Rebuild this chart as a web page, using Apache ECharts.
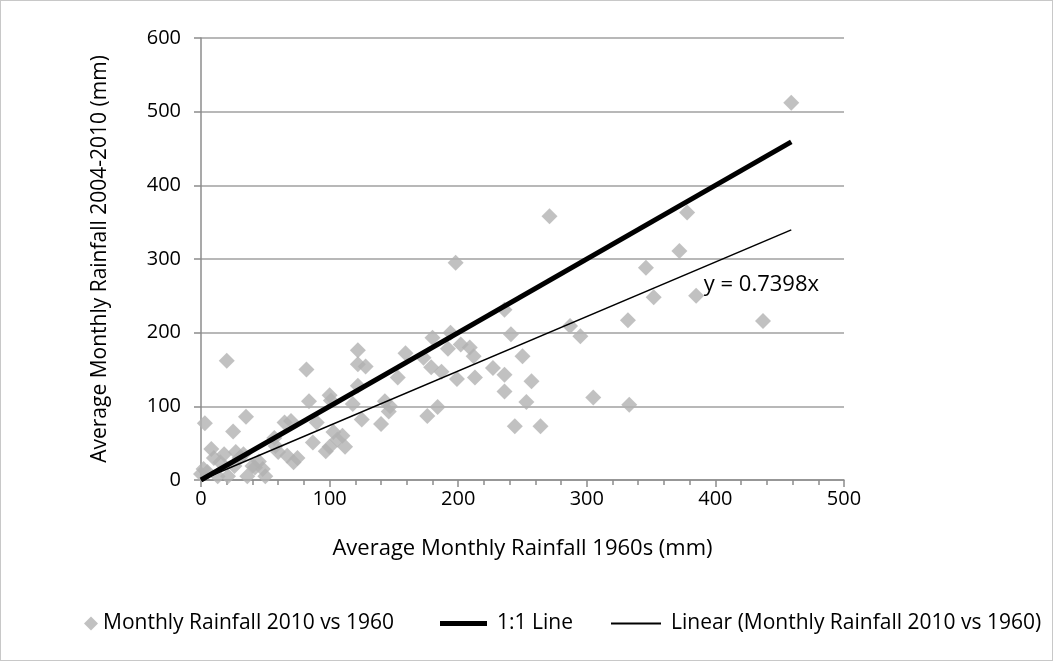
<!DOCTYPE html>
<html>
<head>
<meta charset="utf-8">
<title>Monthly Rainfall 2010 vs 1960</title>
<script src="https://cdn.jsdelivr.net/npm/echarts@6/dist/echarts.min.js"></script>
<style>
  html, body { margin: 0; padding: 0; background: #fff; }
  #chart { width: 1051px; height: 659px; border: 1px solid #c8c8c8; }
</style>
</head>
<body>
<div id="chart"></div>
<script>
// scatter points: 1960s average (x) vs 2004-2010 average (y), mm
const rain1960 = [
  0, 2, 5, 13, 21, 15, 8, 18, 27, 33, 26, 40, 36, 48, 50, 3, 25, 35, 20, 57,
  58, 60, 67, 72, 75, 65, 70, 90, 87, 97, 100, 103, 106, 112, 84, 82, 100, 101, 118, 122,
  125, 122, 122, 128, 140, 146, 143, 147, 153, 159, 173, 176, 179, 180, 184, 187, 192, 194, 198, 199,
  202, 209, 212, 213, 227, 236, 236, 236, 241, 244, 250, 253, 257, 264, 271, 287, 295, 305, 332, 333,
  346, 352, 372, 378, 385, 437, 459, 10, 30, 45, 42, 110
];
const rain2004 = [
  8, 15, 11, 5, 5, 24, 42, 35, 38, 35, 19, 19, 5, 15, 5, 77, 66, 86, 162, 57,
  46, 38, 33, 24, 30, 78, 80, 78, 51, 39, 45, 65, 55, 45, 107, 150, 115, 108, 103, 128,
  82, 176, 157, 154, 76, 93, 107, 100, 139, 172, 166, 87, 153, 193, 99, 147, 178, 200, 295, 137,
  184, 180, 168, 139, 152, 143, 120, 231, 198, 73, 168, 106, 134, 73, 358, 209, 195, 112, 217, 102,
  288, 248, 311, 363, 250, 216, 512, 30, 30, 25, 17, 60
];

// 1:1 reference line and the fitted line through the origin
const oneToOneX = [0, 459];
const oneToOneY = [0, 459];
const trendX = [0, 459];
const trendY = [0, 339.6];
const trendLabel = 'y = 0.7398x';

const xTicks = [0, 100, 200, 300, 400, 500];
const yTicks = [0, 100, 200, 300, 400, 500, 600];

const FONT = 'Open Sans';
const chart = echarts.init(document.getElementById('chart'));

const scatterData = rain1960.map((x, i) => [x, rain2004[i]]);
const pair = (xs, ys) => xs.map((x, i) => [x, ys[i]]);
const legendText = { fontFamily: FONT, fontSize: 21, color: '#000' };

chart.setOption({
  animation: false,
  textStyle: { fontFamily: FONT, color: '#000' },
  grid: { left: 200, right: 208, top: 37, bottom: 180 },
  legend: [
    {
      data: [{ name: 'Monthly Rainfall 2010 vs 1960', icon: 'diamond' }],
      left: 78, bottom: 21,
      itemWidth: 14, itemHeight: 14,
      textStyle: legendText
    },
    {
      data: [{ name: '1:1 Line', icon: 'rect' }],
      left: 434, bottom: 21,
      itemWidth: 47, itemHeight: 5,
      textStyle: Object.assign({ padding: [0, 0, 0, 5] }, legendText)
    },
    {
      data: [{ name: 'Linear (Monthly Rainfall 2010 vs 1960)', icon: 'rect' }],
      left: 605, bottom: 21,
      itemWidth: 50, itemHeight: 2,
      textStyle: Object.assign({ padding: [0, 0, 0, 5] }, legendText)
    }
  ],
  xAxis: {
    type: 'value',
    min: xTicks[0],
    max: xTicks[xTicks.length - 1],
    interval: 100,
    name: 'Average Monthly Rainfall 1960s (mm)',
    nameLocation: 'middle',
    nameGap: 58,
    nameTextStyle: { fontFamily: FONT, fontSize: 22, color: '#000' },
    axisLine: { show: true, lineStyle: { color: '#8c8c8c', width: 1.5 } },
    axisTick: { show: true, length: 7, lineStyle: { color: '#8c8c8c', width: 1.5 } },
    minorTick: { show: true, splitNumber: 5, length: 5, lineStyle: { color: '#8c8c8c', width: 1.5 } },
    axisLabel: { fontFamily: FONT, fontSize: 20, color: '#000', margin: 9 },
    splitLine: { show: false }
  },
  yAxis: {
    type: 'value',
    min: yTicks[0],
    max: yTicks[yTicks.length - 1],
    interval: 100,
    name: 'Average Monthly Rainfall 2004-2010 (mm)',
    nameLocation: 'middle',
    nameGap: 90,
    nameTextStyle: { fontFamily: FONT, fontSize: 21, color: '#000' },
    axisLine: { show: true, lineStyle: { color: '#8c8c8c', width: 1.5 } },
    axisTick: { show: true, length: 7, lineStyle: { color: '#8c8c8c', width: 1.5 } },
    axisLabel: { fontFamily: FONT, fontSize: 20, color: '#000', margin: 20 },
    splitLine: { show: true, lineStyle: { color: '#a0a0a0', width: 1.5 } }
  },
  series: [
    {
      name: 'Monthly Rainfall 2010 vs 1960',
      type: 'scatter',
      symbol: 'diamond',
      symbolSize: 16,
      itemStyle: { color: '#b2b2b2' },
      data: scatterData,
      z: 2
    },
    {
      name: '1:1 Line',
      type: 'line',
      symbol: 'none',
      lineStyle: { color: '#000', width: 5 },
      itemStyle: { color: '#000' },
      data: pair(oneToOneX, oneToOneY),
      z: 3
    },
    {
      name: 'Linear (Monthly Rainfall 2010 vs 1960)',
      type: 'line',
      symbol: 'none',
      lineStyle: { color: '#000', width: 1.5 },
      itemStyle: { color: '#000' },
      data: pair(trendX, trendY),
      z: 4,
      markPoint: {
        symbol: 'circle',
        symbolSize: 0,
        silent: true,
        data: [{
          coord: [391, 265],
          label: {
            show: true,
            position: 'right',
            distance: 0,
            formatter: trendLabel,
            fontFamily: FONT,
            fontSize: 22,
            color: '#000'
          }
        }]
      }
    }
  ]
});

window.addEventListener('resize', () => chart.resize());
</script>
</body>
</html>
